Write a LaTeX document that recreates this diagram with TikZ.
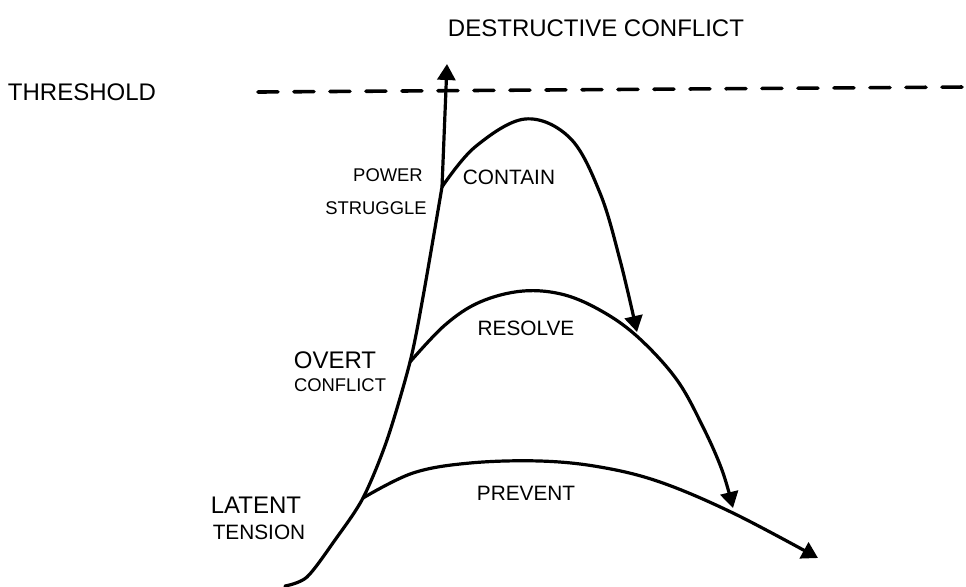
\documentclass[tikz,border=0pt]{standalone}
\usepackage{fontspec}
\setmainfont{Liberation Sans}
\usepackage{tikz}
\usetikzlibrary{arrows.meta}

\begin{document}
\begin{tikzpicture}[line cap=round,line join=round,>={Triangle[length=8pt,width=9pt]},x=0.5pt,y=-0.5pt,
  curve/.style={line width=1.6pt},
  thrline/.style={line width=1.8pt,dash pattern=on 10pt off 8pt},
  biglbl/.style={inner sep=0pt,font=\fontsize{12}{14}\selectfont},
  lbl/.style={inner sep=0pt,font=\fontsize{10.4}{12}\selectfont},
  smalllbl/.style={inner sep=0pt,font=\fontsize{9.2}{11}\selectfont}]
\useasboundingbox (0,0) rectangle (966,586);
% points on the curves
\coordinate (base) at (285,586);
\coordinate (latent) at (363,498);
\coordinate (overt) at (410,362);
\coordinate (power) at (442,187);
\coordinate (top) at (447,64);
\coordinate (contained) at (637,332);
\coordinate (resolved) at (733,508);
\coordinate (prevented) at (818,558);
\coordinate (thrstart) at (258,92);
\coordinate (thrend) at (966,87);
% labels
\node[biglbl] (destructive) at (596,28) {DESTRUCTIVE CONFLICT};
\node[biglbl] (threshold) at (82,92) {THRESHOLD};
\node[smalllbl] (powerl) at (388,175) {POWER};
\node[smalllbl] (struggle) at (376,208) {STRUGGLE};
\node[lbl] (contain) at (509,177) {CONTAIN};
\node[biglbl] (overtl) at (335,360) {OVERT};
\node[smalllbl] (conflict) at (340,385) {CONFLICT};
\node[lbl] (resolve) at (526,328) {RESOLVE};
\node[biglbl] (latentl) at (256,505) {LATENT};
\node[lbl] (tension) at (259,532) {TENSION};
\node[lbl] (prevent) at (526,493) {PREVENT};
% threshold
\draw[thrline] (thrstart) -- (thrend);
% escalation
\draw[curve,->] plot[smooth,tension=0.5] coordinates {(base) (307,577) (335,540) (latent) (387,440) (overt) (423,297) (power)} -- (top);
\draw[curve,->] plot[smooth,tension=0.6] coordinates {(power) (475,147) (525,119) (570,138) (600,193) (620,260) (contained)};
\draw[curve,->] plot[smooth,tension=0.6] coordinates {(overt) (445,325) (480,302) (523,291) (565,295) (605,313) (640,339) (677,380) (703,427) (722,470) (resolved)};
\draw[curve,->] plot[smooth,tension=0.6] coordinates {(latent) (413,473) (470,463) (540,461) (600,467) (660,482) (733,513) (prevented)};
\end{tikzpicture}
\end{document}
